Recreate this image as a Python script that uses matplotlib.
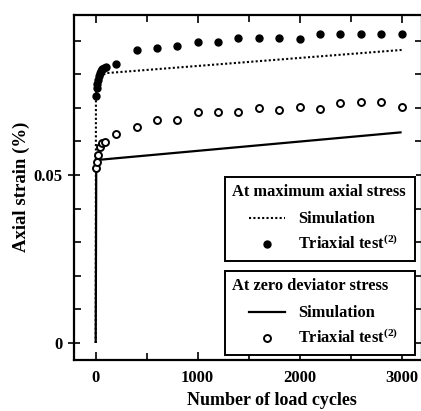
import matplotlib
matplotlib.use("Agg")
import matplotlib.pyplot as plt
from matplotlib.lines import Line2D
from matplotlib.legend_handler import HandlerLine2D
from matplotlib.ticker import MultipleLocator, FixedLocator

plt.rcParams['font.family'] = ['Liberation Serif', 'DejaVu Serif']
plt.rcParams['font.weight'] = 'bold'
plt.rcParams['mathtext.fontset'] = 'custom'
plt.rcParams['mathtext.rm'] = 'Liberation Serif:bold'
plt.rcParams['mathtext.bf'] = 'Liberation Serif:bold'

# ---- data ----
# Triaxial test at maximum axial stress (filled circles)
max_test_cycles = [1, 10, 15, 20, 30, 40, 50, 60, 80, 100, 200, 400, 600, 800, 1000,
                   1200, 1400, 1600, 1800, 2000, 2200, 2400, 2600, 2800, 3000]
max_test_strain = [0.0735, 0.0760, 0.0772, 0.0782, 0.0795, 0.0803, 0.0810, 0.0815, 0.0818, 0.0820,
                   0.0829, 0.0872, 0.0877, 0.0884, 0.0897,
                   0.0897, 0.0909, 0.0909, 0.0909, 0.0905, 0.0919, 0.0919, 0.0919, 0.0919, 0.0919]

# Triaxial test at zero deviator stress (open circles)
zero_test_cycles = [1, 10, 25, 40, 60, 90, 200, 400, 600, 800, 1000,
                    1200, 1400, 1600, 1800, 2000, 2200, 2400, 2600, 2800, 3000]
zero_test_strain = [0.0520, 0.0540, 0.0560, 0.0584, 0.0594, 0.0597, 0.0621, 0.0642, 0.0664, 0.0664, 0.0688,
                    0.0686, 0.0688, 0.0698, 0.0693, 0.0703, 0.0695, 0.0713, 0.0718, 0.0718, 0.0703]

# Simulation at maximum axial stress (dotted)
max_sim_cycles = [0, 2, 10, 30, 100, 3000]
max_sim_strain = [0.0, 0.0730, 0.0770, 0.0790, 0.0803, 0.0872]

# Simulation at zero deviator stress (solid)
zero_sim_cycles = [0, 5, 30, 3000]
zero_sim_strain = [0.0, 0.0525, 0.0545, 0.0627]

x_ticks = [0, 1000, 2000, 3000]
y_ticks = [0, 0.05]
y_ticklabels = ['0', '0.05']

W, H, DPI = 421, 411, 100
fig = plt.figure(figsize=(W / DPI, H / DPI), dpi=DPI)
L, R, T, B = 74, 422, 15, 360
ax = fig.add_axes([L / W, 1 - B / H, (R - L) / W, (B - T) / H])

DOT = (0, (1, 1.1))
ax.plot(zero_sim_cycles, zero_sim_strain, color='black', lw=1.6, solid_capstyle='butt')
ax.plot(max_sim_cycles, max_sim_strain, color='black', lw=1.5, linestyle=DOT)
ax.plot(max_test_cycles, max_test_strain, linestyle='none', marker='o', ms=5,
        mfc='black', mec='black')
ax.plot(zero_test_cycles, zero_test_strain, linestyle='none', marker='o', ms=5,
        mfc='white', mec='black', mew=1.4)

ax.set_xlim(-213, 3200)
ax.set_ylim(-0.00506, 0.0976)

ax.xaxis.set_major_locator(FixedLocator(x_ticks))
ax.xaxis.set_minor_locator(MultipleLocator(500))
ax.yaxis.set_major_locator(FixedLocator(y_ticks))
ax.set_yticklabels(y_ticklabels)
ax.yaxis.set_minor_locator(MultipleLocator(0.01))
ax.tick_params(which='both', direction='in', top=True, right=True, width=1.2,
               labelsize=12)
ax.tick_params(axis='x', pad=7)
ax.tick_params(axis='y', pad=4)
ax.tick_params(which='major', length=6)
ax.tick_params(which='minor', length=5)
ax.tick_params(axis='y', which='major', direction='inout', length=8)
for s in ax.spines.values():
    s.set_linewidth(1.6)

ax.set_xlabel('Number of load cycles', fontsize=13, fontweight='bold')
ax.xaxis.set_label_coords((272 - L) / (R - L), -(392 - B) / (B - T))
ax.set_ylabel('Axial strain (%)', fontsize=13.5, fontweight='bold')
ax.yaxis.set_label_coords(-(L - 30) / (R - L), (B - 187) / (B - T))

hmap = {Line2D: HandlerLine2D(xpad=1.0)}
common = dict(loc='upper left', bbox_transform=fig.transFigure, borderaxespad=0,
              fancybox=False, frameon=True, edgecolor='black', framealpha=1,
              numpoints=1, handlelength=3.2, handletextpad=0.85, borderpad=0.45,
              labelspacing=0.45, alignment='left', handler_map=hmap, mode='expand',
              prop={'size': 11.75, 'weight': 'bold'},
              title_fontproperties={'size': 11.75, 'weight': 'bold'})

BOX_W = 190 / W

h1 = [Line2D([], [], color='black', lw=1.5, linestyle=DOT),
      Line2D([], [], linestyle='none', marker='o', ms=5, mfc='black', mec='black')]
leg1 = ax.legend(h1, ['Simulation', r'Triaxial test$^{(2)}$'],
                 title='At maximum axial stress',
                 bbox_to_anchor=(225 / W, 1 - 177 / H, BOX_W, 0), **common)
leg1.get_frame().set_linewidth(1.4)
leg1._legend_box.sep = 8
ax.add_artist(leg1)

h2 = [Line2D([], [], color='black', lw=1.6),
      Line2D([], [], linestyle='none', marker='o', ms=5, mfc='white', mec='black', mew=1.4)]
leg2 = ax.legend(h2, ['Simulation', r'Triaxial test$^{(2)}$'],
                 title='At zero deviator stress',
                 bbox_to_anchor=(225 / W, 1 - 271 / H, BOX_W, 0), **common)
leg2.get_frame().set_linewidth(1.4)
leg2._legend_box.sep = 8

fig.savefig('out.png', dpi=DPI)
